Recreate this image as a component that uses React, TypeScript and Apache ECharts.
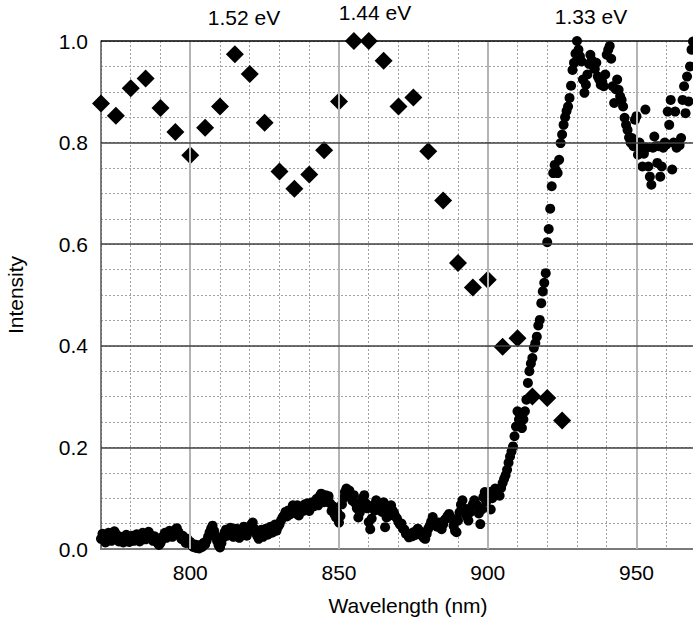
import React, { useEffect, useRef } from "react";
import * as echarts from "echarts";

// Photoluminescence-like spectrum (circles): sampled every 0.5 nm starting at 770 nm
const SPEC_START = 770;
const SPEC_STEP = 0.5;
const spectrum: number[] = [
  // 770-779.5
  0.020, 0.030, 0.022, 0.013, 0.025, 0.032, 0.024, 0.016, 0.027, 0.035, 0.030, 0.020, 0.015, 0.024, 0.017, 0.013, 0.022, 0.028, 0.020, 0.014,
  // 780
  0.020, 0.026, 0.016, 0.022, 0.029, 0.019, 0.015, 0.023, 0.032, 0.026, 0.019, 0.027, 0.034, 0.028, 0.020, 0.016, 0.025, 0.020, 0.012, 0.008,
  // 790
  0.012, 0.018, 0.026, 0.032, 0.022, 0.028, 0.036, 0.030, 0.024, 0.033, 0.038, 0.041, 0.034, 0.026, 0.020, 0.026, 0.016, 0.012, 0.020, 0.013,
  // 800
  0.014, 0.008, 0.004, 0.009, 0.002, 0.007, 0.001, 0.008, 0.004, 0.012, 0.009, 0.016, 0.024, 0.033, 0.040, 0.046, 0.036, 0.026, 0.016, 0.008,
  // 810
  0.003, 0.012, 0.022, 0.032, 0.038, 0.026, 0.034, 0.042, 0.030, 0.024, 0.033, 0.040, 0.028, 0.022, 0.030, 0.038, 0.044, 0.032, 0.026, 0.035,
  // 820
  0.040, 0.048, 0.052, 0.040, 0.032, 0.026, 0.020, 0.030, 0.038, 0.024, 0.032, 0.040, 0.028, 0.036, 0.044, 0.032, 0.040, 0.048, 0.036, 0.044,
  // 830
  0.048, 0.056, 0.062, 0.066, 0.073, 0.064, 0.076, 0.068, 0.078, 0.086, 0.079, 0.070, 0.086, 0.066, 0.074, 0.082, 0.075, 0.088, 0.079, 0.090,
  // 840
  0.075, 0.084, 0.092, 0.084, 0.093, 0.099, 0.086, 0.104, 0.109, 0.097, 0.092, 0.106, 0.096, 0.104, 0.090, 0.075, 0.084, 0.068, 0.062, 0.072,
  // 850
  0.052, 0.065, 0.088, 0.100, 0.112, 0.119, 0.106, 0.115, 0.102, 0.095, 0.106, 0.090, 0.080, 0.062, 0.072, 0.088, 0.100, 0.106, 0.090, 0.080,
  // 860
  0.053, 0.039, 0.060, 0.086, 0.076, 0.096, 0.086, 0.077, 0.085, 0.073, 0.092, 0.043, 0.062, 0.077, 0.066, 0.086, 0.076, 0.071, 0.064, 0.060,
  // 870
  0.053, 0.048, 0.050, 0.040, 0.038, 0.030, 0.028, 0.023, 0.030, 0.025, 0.033, 0.027, 0.036, 0.040, 0.029, 0.034, 0.026, 0.022, 0.020, 0.030,
  // 880
  0.040, 0.046, 0.054, 0.063, 0.054, 0.050, 0.044, 0.052, 0.043, 0.039, 0.048, 0.057, 0.060, 0.065, 0.069, 0.062, 0.060, 0.046, 0.036, 0.033,
  // 890
  0.056, 0.072, 0.087, 0.096, 0.080, 0.075, 0.064, 0.056, 0.072, 0.082, 0.088, 0.096, 0.088, 0.085, 0.070, 0.049, 0.078, 0.102, 0.112, 0.093,
  // 900
  0.105, 0.112, 0.078, 0.100, 0.114, 0.119, 0.106, 0.115, 0.105, 0.120, 0.130, 0.138, 0.145, 0.156, 0.170, 0.182, 0.192, 0.202, 0.222, 0.241,
  // 910
  0.271, 0.255, 0.262, 0.238, 0.255, 0.271, 0.294, 0.327, 0.350, 0.365, 0.376, 0.396, 0.405, 0.418, 0.440, 0.451, 0.484, 0.507, 0.524, 0.543,
  // 920
  0.604, 0.630, 0.670, 0.714, 0.740, 0.756, 0.745, 0.740, 0.766, 0.799, 0.816, 0.835, 0.850, 0.862, 0.871, 0.888, 0.912, 0.943, 0.957, 0.975,
  // 930
  1.000, 0.983, 0.970, 0.960, 0.924, 0.898, 0.914, 0.934, 0.955, 0.973, 0.962, 0.950, 0.945, 0.957, 0.930, 0.924, 0.914, 0.920, 0.911, 0.934,
  // 940
  0.973, 0.983, 0.990, 0.965, 0.911, 0.878, 0.905, 0.924, 0.904, 0.891, 0.884, 0.871, 0.849, 0.835, 0.825, 0.810, 0.800, 0.809, 0.793, 0.845,
  // 950
  0.852, 0.776, 0.800, 0.793, 0.753, 0.778, 0.865, 0.790, 0.753, 0.733, 0.717, 0.790, 0.812, 0.793, 0.760, 0.793, 0.733, 0.753, 0.790, 0.800,
  // 960-969
  0.796, 0.861, 0.835, 0.884, 0.747, 0.800, 0.861, 0.790, 0.799, 0.795, 0.809, 0.884, 0.911, 0.858, 0.930, 0.881, 0.950, 0.983, 0.999,
];

// Diamonds: absorption-like series every 5 nm
const diamondWavelengths: number[] = [
  770, 775, 780, 785, 790, 795, 800, 805, 810, 815, 820, 825, 830, 835, 840, 845,
  850, 855, 860, 865, 870, 875, 880, 885, 890, 895, 900, 905, 910, 915, 920, 925,
];
const diamondIntensity: number[] = [
  0.877, 0.853, 0.907, 0.926, 0.868, 0.821, 0.775, 0.829, 0.871, 0.974, 0.935, 0.839, 0.743, 0.709, 0.737, 0.785,
  0.881, 1.0, 1.0, 0.961, 0.871, 0.889, 0.783, 0.686, 0.563, 0.515, 0.530, 0.398, 0.415, 0.300, 0.297, 0.253,
];

const xTickLabels: number[] = [800, 850, 900, 950];
const yTickLabels: number[] = [0, 0.2, 0.4, 0.6, 0.8, 1.0];
const peakLabels: string[] = ["1.52 eV", "1.44 eV", "1.33 eV"];
const xTitle = "Wavelength (nm)";
const yTitle = "Intensity";

const FONT = '"Liberation Sans", Arial, Helvetica, sans-serif';
const FS = 21;

export default function App() {
  const ref = useRef<HTMLDivElement>(null);

  useEffect(() => {
    if (!ref.current) return;
    const chart = echarts.init(ref.current, undefined, { renderer: "svg" });

    const spectrumData = spectrum.map((v, i) => [SPEC_START + i * SPEC_STEP, v]);
    const diamondData = diamondWavelengths.map((w, i) => [w, diamondIntensity[i]]);

    const isYMajor = (v: number) => yTickLabels.some((t) => Math.abs(t - v) < 1e-6);

    const majorLines: any[] = [
      ...xTickLabels.map((x) => ({ xAxis: x, lineStyle: { color: "#b4b4b4", width: 2, type: "solid" } })),
      ...yTickLabels
        .filter((y) => y > 0 && y < 1)
        .map((y) => ({ yAxis: y, lineStyle: { color: "#404040", width: 1.5, type: "solid" } })),
      { yAxis: 1.0, lineStyle: { color: "#000", width: 1.5, type: "solid" } },
    ];

    const labelPos = [
      [244, 17],
      [375, 12],
      [591, 16],
    ];

    chart.setOption({
      animation: false,
      grid: { left: 101, right: 0, top: 41, bottom: 79, containLabel: false },
      xAxis: {
        type: "value",
        min: 770,
        max: 969,
        interval: 10,
        axisLine: { show: true, lineStyle: { color: "#7a7a7a", width: 2 } },
        axisTick: { show: false },
        axisLabel: {
          margin: 13,
          fontSize: FS,
          fontFamily: FONT,
          color: "#000",
          showMaxLabel: false,
          formatter: (v: number) => (xTickLabels.includes(Math.round(v)) && Math.abs(v - Math.round(v)) < 1e-6 ? String(Math.round(v)) : ""),
        },
        splitLine: { show: true, lineStyle: { color: "#a0a0a0", width: 1, type: [2, 2] } },
      },
      yAxis: {
        type: "value",
        min: 0,
        max: 1,
        interval: 0.05,
        axisLine: { show: true, lineStyle: { color: "#555", width: 1.5 } },
        axisTick: { show: false },
        axisLabel: {
          margin: 13,
          fontSize: FS,
          fontFamily: FONT,
          color: "#000",
          formatter: (v: number) => (isYMajor(v) ? v.toFixed(1) : ""),
        },
        splitLine: { show: true, lineStyle: { color: "#a0a0a0", width: 1, type: [2, 2] } },
      },
      graphic: [
        ...peakLabels.map((t, i) => ({
          type: "text",
          x: labelPos[i][0],
          y: labelPos[i][1],
          silent: true,
          style: { text: t, fontSize: FS, fontFamily: FONT, fill: "#000", align: "center", verticalAlign: "middle" },
        })),
        {
          type: "text",
          x: 408,
          y: 605,
          silent: true,
          style: { text: xTitle, fontSize: FS, fontFamily: FONT, fill: "#000", align: "center", verticalAlign: "middle" },
        },
        {
          type: "text",
          x: 15,
          y: 295,
          rotation: Math.PI / 2,
          silent: true,
          style: { text: yTitle, fontSize: FS, fontFamily: FONT, fill: "#000", align: "center", verticalAlign: "middle" },
        },
      ],
      series: [
        {
          type: "scatter",
          data: [],
          z: 1,
          silent: true,
          markLine: {
            silent: true,
            animation: false,
            symbol: ["none", "none"],
            label: { show: false },
            data: majorLines,
          },
        },
        {
          type: "scatter",
          name: "spectrum",
          data: spectrumData,
          symbol: "circle",
          symbolSize: 10,
          z: 3,
          itemStyle: { color: "#000", opacity: 1 },
        },
        {
          type: "scatter",
          name: "diamonds",
          data: diamondData,
          symbol: "diamond",
          symbolSize: 18,
          z: 4,
          itemStyle: { color: "#000", opacity: 1 },
        },
      ],
    });

    return () => chart.dispose();
  }, []);

  return (
    <div
      ref={ref}
      style={{ position: "fixed", left: 0, top: 0, width: 693, height: 628, background: "#fff" }}
    />
  );
}
